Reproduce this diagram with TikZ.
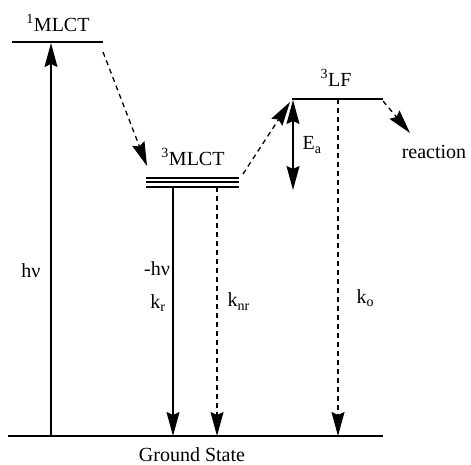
\documentclass[tikz,border=0pt]{standalone}
\usepackage{fontspec}
\setmainfont{Liberation Serif}
\usepackage{tikz}
\usetikzlibrary{arrows.meta, positioning}

\begin{document}
\begin{tikzpicture}[
    x=1pt, y=-1pt,
    every node/.style={font=\fontsize{20}{24}\selectfont, inner sep=0pt},
    level/.style={line width=1.8pt},
    arrow/.style={line width=1.3pt, -{Stealth[length=24pt, width=13pt, inset=3pt]}},
    darrow/.style={arrow, dash pattern=on 5pt off 4pt},
    dbl/.style={line width=1.3pt, {Stealth[length=24pt, width=13pt, inset=3pt]}-{Stealth[length=24pt, width=13pt, inset=3pt]}}
]
\useasboundingbox (0,0) rectangle (471,465);

% energy levels
\coordinate (s1l) at (12,42);   \coordinate (s1r) at (103,42);
\coordinate (t1l) at (146,178); \coordinate (t1r) at (239,178);
\coordinate (t2l) at (146,182); \coordinate (t2r) at (239,182);
\coordinate (t3l) at (146,187); \coordinate (t3r) at (239,187);
\coordinate (lfl) at (292,99);  \coordinate (lfr) at (383,99);
\coordinate (gsl) at (8,436);   \coordinate (gsr) at (383,436);

\draw [level] (s1l) -- (s1r);
\draw [level] (t1l) -- (t1r);
\draw [level] (t2l) -- (t2r);
\draw [level] (t3l) -- (t3r);
\draw [level] (lfl) -- (lfr);
\draw [level] (gsl) -- (gsr);

% labels
\node (lmlct1) at (58,23) {\textsuperscript{1}MLCT};
\node (lmlct3) at (193,157) {\textsuperscript{3}MLCT};
\node (llf) at (336,78) {\textsuperscript{3}LF};
\node (lgs) at (192,455) {Ground State};
\node (lreac) at (434,152) {reaction};

% arrow end points
\coordinate (hvb) at (51,436);  \coordinate (hvt) at (51,43);
\coordinate (isca) at (103,52); \coordinate (iscb) at (147,166);
\coordinate (kra) at (173,187); \coordinate (krb) at (173,436);
\coordinate (knra) at (217,187); \coordinate (knrb) at (217,436);
\coordinate (eta) at (243,174); \coordinate (etb) at (290,102);
\coordinate (eaa) at (293,100); \coordinate (eab) at (293,190);
\coordinate (koa) at (338,99);  \coordinate (kob) at (338,436);
\coordinate (rxa) at (383,101); \coordinate (rxb) at (410,133);

\draw [arrow] (hvb) -- node[pos=0.42, left=10pt] {hν} (hvt);
\draw [darrow] (isca) -- (iscb);
\draw [arrow] (kra) -- (krb);
\node (lhv) at (157,269) {-hν};
\node (lkr) at (158,303) {k\textsubscript{r}};
\draw [darrow] (knra) -- node[pos=0.46, right=10pt] {k\textsubscript{nr}} (knrb);
\draw [darrow] (eta) -- (etb);
\draw [dbl] (eaa) -- node[right=9pt] {E\textsubscript{a}} (eab);
\draw [darrow] (koa) -- node[pos=0.59, right=18pt] {k\textsubscript{o}} (kob);
\draw [darrow] (rxa) -- (rxb);

\end{tikzpicture}
\end{document}
